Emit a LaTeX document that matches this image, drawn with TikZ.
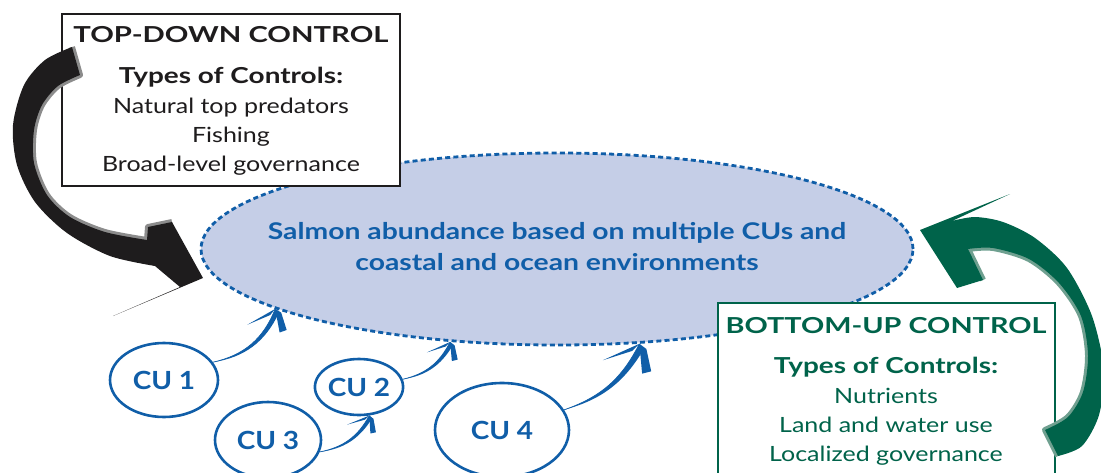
\documentclass[tikz,border=0pt]{standalone}
\usepackage{fontspec}
\setmainfont{Lato}
\usetikzlibrary{arrows.meta,calc,shapes.geometric,positioning}
\definecolor{cublue}{HTML}{105EA8}
\definecolor{salmonfill}{HTML}{C5CEE7}
\definecolor{bugreen}{HTML}{00634A}
\definecolor{bushade}{HTML}{6FA090}
\definecolor{tdblack}{HTML}{1E1C1D}
\definecolor{tdshade}{HTML}{8C8C8C}
\tikzset{
  salmonell/.style={ellipse, draw=cublue, fill=salmonfill, line width=2.8pt,
    dash pattern=on 5pt off 3.2pt, minimum width=712pt, minimum height=192pt, inner sep=0pt},
  salmontext/.style={text=cublue, align=center, font=\bfseries\fontsize{23}{31}\selectfont},
  cunode/.style={ellipse, draw=cublue, line width=2.6pt, fill=white, text=cublue,
    inner sep=0pt, font=\bfseries\fontsize{25}{30}\selectfont},
  tdframe/.style={draw=tdblack, line width=2.4pt, fill=white, minimum width=338pt, minimum height=172pt},
  buframe/.style={draw=bugreen, line width=2.4pt, fill=white, minimum width=337pt, minimum height=200pt},
  boxhead/.style={anchor=base, font=\bfseries\fontsize{22}{26}\selectfont},
  boxitem/.style={anchor=base, font=\fontsize{21}{26}\selectfont},
}
% horizontally widened text
\newcommand{\wtext}[2]{\scalebox{#1}[1]{#2}}
% tapered CU arrow: start, target, bend, head scale
\newcommand{\cuarrow}[4]{%
  \fill[cublue] (#1) to[bend right=#3] (#2) -- ($(#2)!5.5pt*#4!90:(#1)$) to[bend left=#3] (#1);
  \draw[cublue, line width=0.7pt] (#1) to[bend right=#3] (#2);
  \fill[cublue] (#2) -- ($(#2)!32pt*#4!#3-39:(#1)$) -- ($(#2)!8pt*#4!#3-18:(#1)$) -- cycle;
  \fill[cublue] (#2) -- ($(#2)!24pt*#4!#3+32:(#1)$) -- ($(#2)!24pt*#4!#3+50:(#1)$)
    -- ($(#2)!7pt*#4!#3+80:(#1)$) -- cycle;
}

\begin{document}
\begin{tikzpicture}[x=1pt, y=1pt]
  \useasboundingbox (0,0) rectangle (1101,-472);
  \clip (0,0) rectangle (1101,-472);

  % salmon abundance
  \node[salmonell] (salmon) at (557,-249) {};
  \node[salmontext] (salmonlbl) at (557,-247)
    {\wtext{1.23}{Salmon abundance based on multiple CUs and}\\\wtext{1.23}{coastal and ocean environments}};

  % top-down box
  \node[tdframe] (tdbox) at (231,-100) {};
  \node[boxhead, text=tdblack] (tdtitle) at (231,-42) {\wtext{1.33}{TOP-DOWN CONTROL}};
  \node[boxhead, text=tdblack] (tdtypes) at (231,-83) {\wtext{1.27}{Types of Controls:}};
  \foreach \txt [count=\i] in {Natural top predators, Fishing, Broad-level governance}
    \node[boxitem, text=tdblack] (tditem\i) at (231,-84-29*\i) {\wtext{1.19}{\txt}};

  % bottom-up box
  \node[buframe] (bubox) at (886.5,-403) {};
  \node[boxhead, text=bugreen] (butitle) at (886,-333) {\wtext{1.31}{BOTTOM-UP CONTROL}};
  \node[boxhead, text=bugreen] (butypes) at (886,-373) {\wtext{1.27}{Types of Controls:}};
  \foreach \txt [count=\i] in {Nutrients, Land and water use, Localized governance}
    \node[boxitem, text=bugreen] (buitem\i) at (886,-374-29*\i) {\wtext{1.19}{\txt}};

  % top-down arrow
  \draw[tdshade, line width=6pt, line join=round]
    (72,-47) -- (80,-75) -- plot[smooth] coordinates {(80,-75) (58,-86) (42,-105) (34,-130) (34,-163) (47,-195) (70,-217) (105,-232) (147,-240)}
    -- (148,-227) -- (172,-222);
  \fill[tdblack] (72,-47) -- plot[smooth] coordinates {(72,-47) (45,-60) (24,-85) (13,-125) (17,-165) (35,-202) (67,-233) (110,-256) (155,-266)}
    -- (180,-287) -- (113,-316) -- (203,-278) -- (172,-222) -- (148,-227) -- (147,-240)
    -- plot[smooth] coordinates {(147,-240) (105,-232) (70,-217) (47,-195) (34,-163) (34,-130) (42,-105) (58,-86) (80,-75)} -- cycle;

  % bottom-up arrow
  \draw[bushade, line width=6pt, line join=round]
    (1058,-456) -- (1045,-430) -- plot[smooth] coordinates {(1045,-430) (1068,-417) (1083,-392) (1088,-355) (1081,-316) (1059,-283) (1029,-259) (993,-248) (968,-249)}
    -- (983,-280);
  \fill[bugreen] (920,-230) -- (1010,-194) -- (952,-221)
    -- plot[smooth] coordinates {(952,-221) (975,-217) (1003,-222) (1035,-238) (1067,-268) (1092,-316) (1104,-370) (1099,-415) (1082,-446) (1058,-456)}
    -- (1045,-430)
    -- plot[smooth] coordinates {(1045,-430) (1068,-417) (1083,-392) (1088,-355) (1081,-316) (1059,-283) (1029,-259) (993,-248) (968,-249)}
    -- (983,-280) -- (957,-288) -- cycle;

  % conservation units
  \node[cunode, minimum width=108pt, minimum height=74pt] (cu1) at (164,-380) {\wtext{1.12}{CU 1}};
  \node[cunode, minimum width=82pt, minimum height=56pt] (cu2) at (359,-387) {\wtext{1.12}{CU 2}};
  \node[cunode, minimum width=106pt, minimum height=76pt] (cu3) at (268,-440) {\wtext{1.12}{CU 3}};
  \node[cunode, minimum width=134pt, minimum height=94pt] (cu4) at (502,-430) {\wtext{1.12}{CU 4}};

  \cuarrow{cu1.20}{salmon.192}{28}{1}
  \cuarrow{cu3.347}{cu2.290}{25}{.75}
  \cuarrow{cu2.10}{salmon.221}{25}{.8}
  \cuarrow{cu4.18}{salmon.311}{22}{1.25}
\end{tikzpicture}
\end{document}
